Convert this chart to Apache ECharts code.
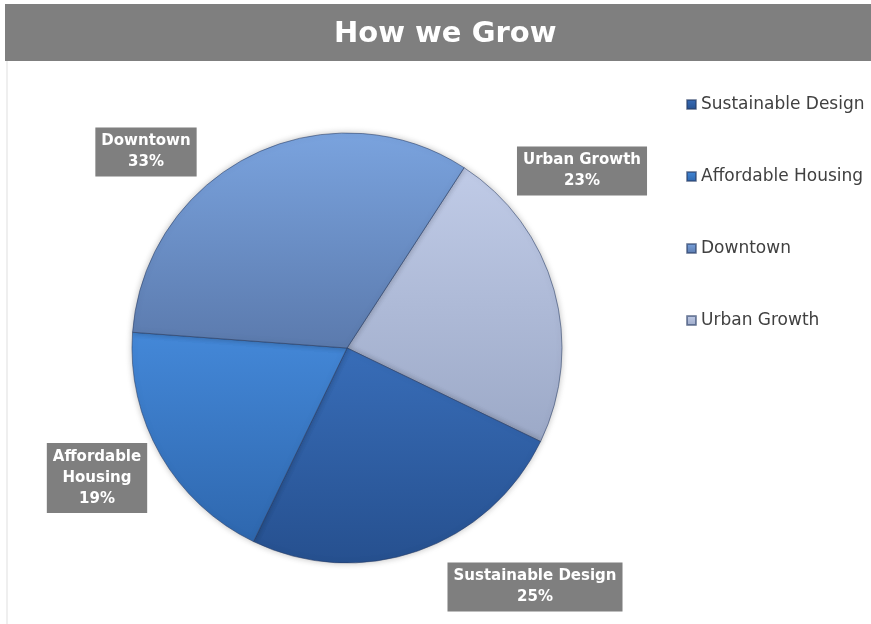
<!DOCTYPE html>
<html>
<head>
<meta charset="utf-8">
<title>How we Grow</title>
<script src="https://cdn.jsdelivr.net/npm/echarts@6/dist/echarts.min.js"></script>
<style>
  html, body { margin: 0; padding: 0; background: #ffffff; }
  #chart { width: 871px; height: 624px; }
</style>
</head>
<body>
<div id="chart"></div>
<script>
// Share of growth by program area (percent), in drawing order clockwise
const categories = ['Urban Growth', 'Sustainable Design', 'Affordable Housing', 'Downtown'];
const shares = [23, 25, 19, 33];
// Legend order
const legendOrder = ['Sustainable Design', 'Affordable Housing', 'Downtown', 'Urban Growth'];
// Text shown in the slice callouts
const calloutNames = ['Urban Growth', 'Sustainable Design', 'Affordable\nHousing', 'Downtown'];

// Top/bottom gradient stops per slice
const sliceShades = {
  'Urban Growth':       ['#c0cbe7', '#9ca9c7'],
  'Sustainable Design': ['#386db8', '#26508f'],
  'Affordable Housing': ['#4488d8', '#2e67ae'],
  'Downtown':           ['#7aa3de', '#5b7aad']
};

// Callout box centres
const calloutAnchors = {
  'Urban Growth':       [582, 171],
  'Sustainable Design': [535, 587],
  'Affordable Housing': [97, 478],
  'Downtown':           [146, 152]
};

const chart = echarts.init(document.getElementById('chart'), null, { renderer: 'canvas' });

const seriesData = categories.map((name, i) => ({
  name: name,
  value: shares[i],
  callout: calloutNames[i],
  itemStyle: {
    color: new echarts.graphic.LinearGradient(0, 0, 0, 1, [
      { offset: 0, color: sliceShades[name][0] },
      { offset: 1, color: sliceShades[name][1] }
    ])
  }
}));

const option = {
  animation: false,
  backgroundColor: '#ffffff',
  graphic: [
    { type: 'rect', shape: { x: 5, y: 4, width: 866, height: 57 }, style: { fill: '#7f7f7f' }, z: 0 },
    { type: 'rect', shape: { x: 6, y: 61, width: 2, height: 563 }, style: { fill: '#efefef' }, z: 0 }
  ],
  title: {
    text: 'How we Grow',
    left: 329,
    top: 15,
    textStyle: {
      color: '#ffffff',
      fontFamily: 'DejaVu Sans',
      fontWeight: 'bold',
      fontSize: 29
    },
    z: 5
  },
  legend: {
    data: legendOrder,
    orient: 'vertical',
    left: 681,
    top: 90,
    itemWidth: 9,
    itemHeight: 9,
    itemGap: 53,
    icon: 'rect',
    textStyle: {
      color: '#404040',
      fontFamily: 'DejaVu Sans',
      fontSize: 17,
      lineHeight: 19
    },
    selectedMode: false
  },
  series: [{
    type: 'pie',
    center: [347, 348],
    radius: 215,
    startAngle: 57,
    clockwise: true,
    avoidLabelOverlap: false,
    data: seriesData,
    itemStyle: {
      borderColor: 'rgba(40,60,100,0.55)',
      borderWidth: 1,
      shadowBlur: 6,
      shadowColor: 'rgba(0,0,0,0.25)'
    },
    label: {
      show: true,
      position: 'outside',
      formatter: p => p.data.callout + '\n' + p.value + '%',
      color: '#ffffff',
      fontFamily: 'DejaVu Sans',
      fontWeight: 'bold',
      fontSize: 15,
      lineHeight: 21,
      align: 'center',
      backgroundColor: '#7f7f7f',
      padding: [4, 6, 3, 6]
    },
    labelLine: { show: false },
    labelLayout: params => {
      const name = categories[params.dataIndex];
      const a = calloutAnchors[name];
      return { x: a[0], y: a[1], align: 'center', verticalAlign: 'middle' };
    },
    emphasis: { disabled: true }
  }]
};

chart.setOption(option);
</script>
</body>
</html>
